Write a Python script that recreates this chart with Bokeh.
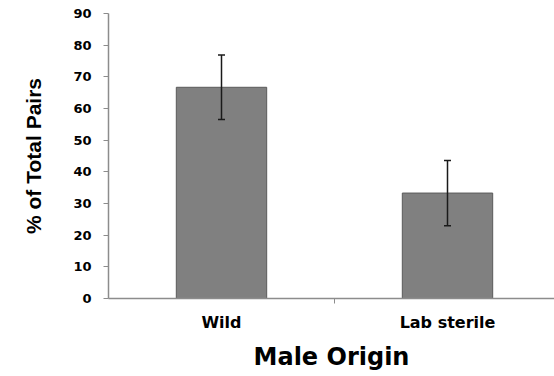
from bokeh.plotting import figure
from bokeh.models import Range1d, FixedTicker, Whisker, ColumnDataSource, TeeHead
from bokeh.embed import file_html
from bokeh.resources import INLINE

categories = ["Wild", "Lab sterile"]
values = [66.7, 33.3]
errors = [10.2, 10.3]
y_ticks = [0, 10, 20, 30, 40, 50, 60, 70, 80, 90]

xs = [i + 0.5 for i in range(len(categories))]
src = ColumnDataSource(dict(
    x=xs, top=values,
    upper=[v + e for v, e in zip(values, errors)],
    lower=[v - e for v, e in zip(values, errors)],
))

p = figure(width=554, height=376, output_backend="svg", toolbar_location=None,
           x_range=Range1d(0, 446 / 226), y_range=Range1d(0, 90),
           min_border_left=108, min_border_right=0, min_border_top=13,
           min_border_bottom=78)
p.outline_line_color = None
p.grid.visible = False
p.background_fill_color = "white"
p.border_fill_color = "white"

p.vbar(x="x", top="top", width=0.4, source=src, fill_color="#808080",
       line_color="#5a5a5a", line_width=1)

w = Whisker(base="x", upper="upper", lower="lower", source=src,
            line_color="#1a1a1a", line_width=1.5, level="overlay",
            upper_head=TeeHead(size=7, line_color="#1a1a1a", line_width=1.5),
            lower_head=TeeHead(size=7, line_color="#1a1a1a", line_width=1.5))
p.add_layout(w)

# x axis
xa = p.xaxis[0]
xa.ticker = FixedTicker(ticks=xs, minor_ticks=[1.0])
xa.major_label_overrides = {x: c for x, c in zip(xs, categories)}
xa.major_tick_line_color = None
xa.major_tick_out = 5
xa.major_tick_in = 0
xa.minor_tick_out = 5
xa.minor_tick_in = 0
xa.minor_tick_line_color = "#8c8c8c"
xa.axis_line_color = "#8c8c8c"
xa.axis_line_width = 1.5
xa.major_label_text_font = "DejaVu Sans"
xa.major_label_text_font_style = "bold"
xa.major_label_text_font_size = "16px"
xa.major_label_text_color = "black"
xa.major_label_standoff = 9
xa.axis_label = "Male Origin"
xa.axis_label_text_font = "DejaVu Sans"
xa.axis_label_text_font_style = "bold"
xa.axis_label_text_font_size = "24px"
xa.axis_label_text_color = "black"
xa.axis_label_standoff = 8

# y axis
ya = p.yaxis[0]
ya.ticker = FixedTicker(ticks=y_ticks, minor_ticks=[])
ya.major_tick_out = 5
ya.major_tick_in = 0
ya.major_tick_line_color = "#8c8c8c"
ya.axis_line_color = "#8c8c8c"
ya.axis_line_width = 1.5
ya.major_label_text_font = "DejaVu Sans"
ya.major_label_text_font_style = "bold"
ya.major_label_text_font_size = "13px"
ya.major_label_text_color = "black"
ya.major_label_standoff = 12
ya.axis_label = "% of Total Pairs"
ya.axis_label_text_font = "Liberation Sans"
ya.axis_label_text_font_style = "bold"
ya.axis_label_text_font_size = "21px"
ya.axis_label_text_color = "black"
ya.axis_label_standoff = 25

open("out.html", "w").write(file_html(p, INLINE))
